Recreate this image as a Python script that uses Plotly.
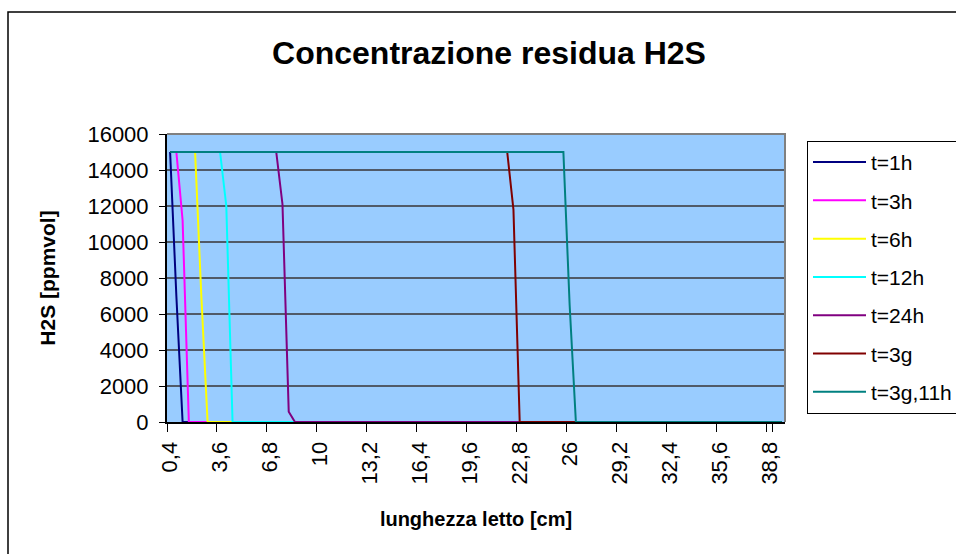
import plotly.graph_objects as go

# Category axis: bed length [cm], step 0.4 (Italian decimal comma)
lengths = [round(0.4 * (i + 1), 1) for i in range(99)]
categories = [f"{v:g}".replace(".", ",") for v in lengths]
tick_labels = categories[::8]

series_names = ["t=1h", "t=3h", "t=6h", "t=12h", "t=24h", "t=3g", "t=3g,11h"]
t1h = [15000, 7000] + [0] * 97
t3h = [15000, 15000, 11200] + [0] * 96
t6h = [15000] * 5 + [7000] + [0] * 93
t12h = [15000] * 9 + [12000] + [0] * 89
t24h = [15000] * 18 + [12100, 570] + [0] * 79
t3g = [15000] * 55 + [11800] + [0] * 43
t3g11h = [15000] * 64 + [6500] + [0] * 34
series_values = [t1h, t3h, t6h, t12h, t24h, t3g, t3g11h]
series_colors = ["#000080", "#FF00FF", "#FFFF00", "#00FFFF", "#800080", "#800000", "#008080"]

FONT = "Liberation Sans, Arial, sans-serif"

fig = go.Figure()
for name, vals, col in zip(series_names, series_values, series_colors):
    fig.add_trace(go.Scatter(
        x=categories, y=vals, mode="lines", name=name,
        legendgroup=name,
        line=dict(color=col, width=2),
    ))

fig.update_layout(
    width=956, height=554,
    margin=dict(l=167, r=171, t=134, b=132, autoexpand=False),
    paper_bgcolor="white",
    plot_bgcolor="#99CCFF",
    font=dict(family=FONT, color="black", size=22),
    title=dict(
        text="<b>Concentrazione residua H2S</b>",
        font=dict(family=FONT, size=32, color="black"),
        x=489 / 956, xanchor="center",
        y=1 - 53 / 554, yanchor="middle",
    ),
    showlegend=True,
    legend=dict(
        x=1.0356, xanchor="left", y=0.976, yanchor="top",
        bgcolor="white", bordercolor="black", borderwidth=1,
        font=dict(family=FONT, size=21, color="black"),
        tracegroupgap=8, itemwidth=53,
        entrywidth=92, entrywidthmode="pixels",
    ),
    xaxis=dict(
        type="category",
        categoryorder="array", categoryarray=categories,
        range=[-0.5, 98.5],
        tickmode="array", tickvals=tick_labels, ticktext=tick_labels,
        tickson="boundaries",
        tickangle=-90,
        ticks="outside", ticklen=8, tickcolor="black", tickwidth=1,
        ticklabelstandoff=9,
        tickfont=dict(family=FONT, size=22, color="black"),
        showgrid=False, zeroline=False,
        showline=True, linecolor="black", linewidth=2,
        layer="below traces",
        title=dict(text="<b>lunghezza letto [cm]</b>",
                   font=dict(family=FONT, size=20, color="black"), standoff=28),
        automargin=False,
    ),
    yaxis=dict(
        range=[0, 16000], dtick=2000, tick0=0, tickformat="d",
        ticks="outside", ticklen=6, tickcolor="black", tickwidth=1,
        ticklabelstandoff=6,
        tickfont=dict(family=FONT, size=22, color="black"),
        showgrid=True, gridcolor="#505a68", gridwidth=2,
        zeroline=False,
        showline=True, linecolor="black", linewidth=2,
        layer="below traces",
        title=dict(text="<b>H2S [ppmvol]</b>",
                   font=dict(family=FONT, size=21, color="black"), standoff=26),
        automargin=False,
    ),
    shapes=[
        # grey plot-area frame on top and right
        dict(type="path", xref="paper", yref="paper",
             path="M 0,1 L 1,1 L 1,0", line=dict(color="#808080", width=2)),
        # outer chart border
        dict(type="rect", xref="paper", yref="paper",
             x0=(8 - 167) / 618, x1=(962 - 167) / 618,
             y0=(422 - 560) / 288, y1=(422 - 12) / 288,
             line=dict(color="black", width=1.5), layer="below"),
    ],
)

fig.write_html("out.html", config={"displayModeBar": False},
               post_script="document.body.style.margin='0';")
